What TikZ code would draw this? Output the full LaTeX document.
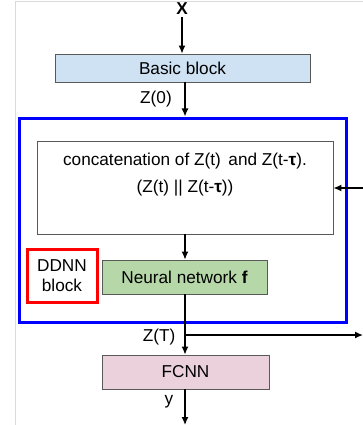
\documentclass[tikz,border=0pt]{standalone}
\usepackage{fontspec}
\setmainfont{Liberation Sans}
\usetikzlibrary{arrows.meta}
\definecolor{pagegray}{HTML}{DADADA}
\definecolor{boxgray}{HTML}{595959}
\definecolor{basicfill}{HTML}{CFE2F3}
\definecolor{nnfill}{HTML}{B6D7A8}
\definecolor{fcfill}{HTML}{EAD1DC}
\tikzset{
  arr/.style={line width=1.4pt, -{Latex[length=8pt,width=7pt]}},
  block/.style={draw=boxgray, line width=0.8pt, inner sep=0pt},
  lbl/.style={inner sep=0pt, font=\fontsize{17.2}{20}\selectfont},
}
\begin{document}
\begin{tikzpicture}[x=1pt,y=-1pt]
\useasboundingbox (0,0) rectangle (363,425);

% boxes
\node[block, fill=basicfill, minimum width=255pt, minimum height=28pt, lbl] (basic) at (182.5,68) {Basic block};
\node[draw=blue, line width=3pt, minimum width=327pt, minimum height=204pt, inner sep=0pt] (outer) at (182.5,220) {};
\node[block, minimum width=296pt, minimum height=93pt] (concat) at (185,187.5) {};
\node[lbl, align=center, font=\fontsize{17.2}{27}\selectfont] (concattext) at (185,175)
  {concatenation of Z(t)\, and Z(t-\textbf{τ}).\\(Z(t) || Z(t-\textbf{τ}))};
\node[block, fill=nnfill, minimum width=165pt, minimum height=34pt, lbl] (nn) at (184.5,277) {Neural network \textbf{f}};
\node[draw=red, line width=3pt, minimum width=70pt, minimum height=53pt, inner sep=0pt, align=center, lbl] (ddnn) at (62,275.5) {DDNN\\block};
\node[block, fill=fcfill, minimum width=167pt, minimum height=34pt, lbl] (fcnn) at (185.5,372) {FCNN};

% labels
\node[lbl, font=\fontsize{17.2}{20}\selectfont\bfseries, anchor=base] (xin) at (182,15) {X};
\node[lbl] (z0) at (156,99) {Z(0)};
\node[lbl] (zT) at (159,337) {Z(T)};
\node[lbl] (yout) at (169,402) {y};

% connector end points
\coordinate (fbin) at (363,188);
\coordinate (brout) at (363,335);
\coordinate (yend) at (185,425);
\coordinate (col) at (185,0);
\coordinate (br) at (185,335);

% connectors
\draw[arr] (182,17) -- (basic.north -| xin);
\draw[arr] (basic.south -| col) -- (outer.north -| col);
\draw[arr] (fbin) -- (concat.east |- fbin);
\draw[arr] (concat.south -| col) -- (nn.north -| col);
\draw[arr] (nn.south -| col) -- (fcnn.north -| col);
\draw[arr] (br) -- (brout);
\draw[arr] (fcnn.south -| col) -- (yend);

% page edge
\draw[pagegray, line width=1.6pt] (15.5,425) -- (15.5,1.5) -- (363,1.5);
\end{tikzpicture}
\end{document}
